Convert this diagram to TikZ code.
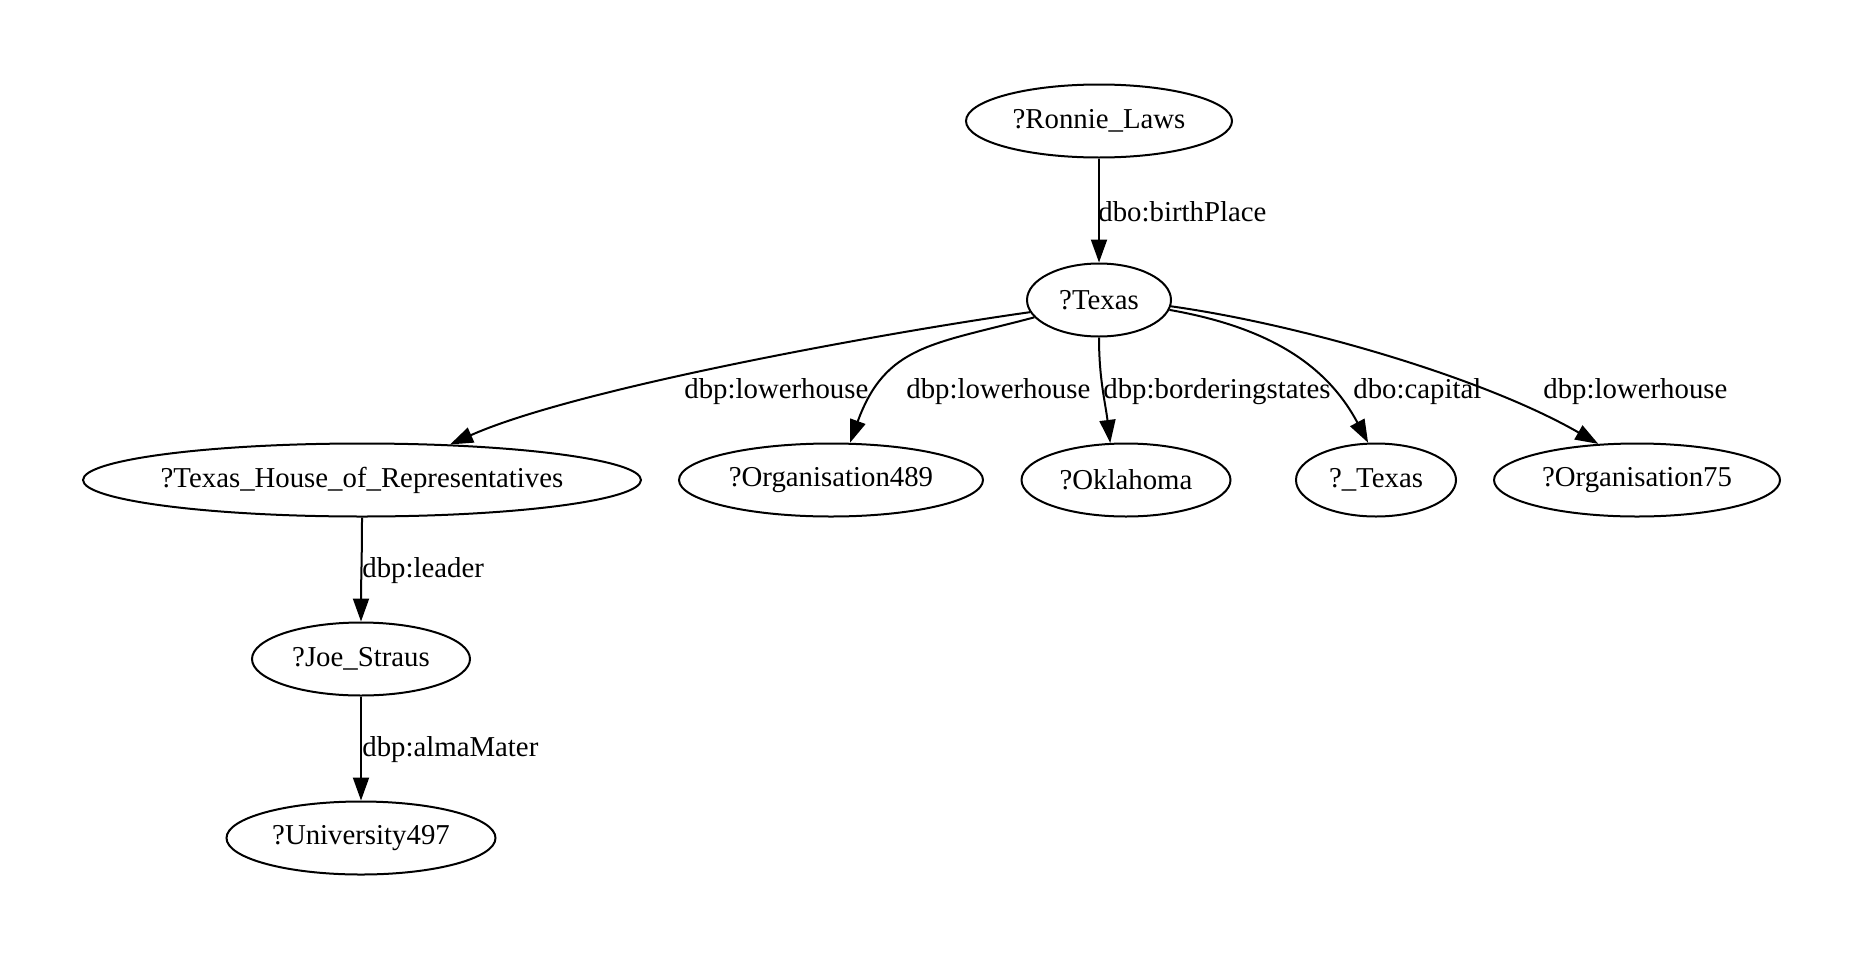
\documentclass[tikz,border=0pt]{standalone}
\usepackage{fontspec}
\setmainfont{Liberation Serif}
\usepackage{tikz}
\usetikzlibrary{arrows.meta,shapes.geometric}
\definecolor{Ink}{HTML}{000000}
\newcommand{\varnode}[5]{%
  \node[ellipse,draw=Ink,line width=1pt,inner xsep=-6pt,inner ysep=0pt,
        minimum width=#5,minimum height=36.5pt,text=Ink,
        font=\fontsize{14.4}{16}\selectfont] (#1) at (#3,#4) {#2};}
\newcommand{\edgelabel}[4]{%
  \node[anchor=west,inner sep=0pt,text=Ink,font=\fontsize{14.4}{16}\selectfont] (#1) at (#3,#4) {#2};}

\begin{document}
\begin{tikzpicture}[x=0.5pt,y=-0.5pt]
    \useasboundingbox (0,0) rectangle (1862,958);
    \varnode{ronnie}{?Ronnie\_Laws}{1099}{121}{133pt}
    \varnode{tx}{?Texas}{1099}{300}{72pt}
    \varnode{thor}{?Texas\_House\_of\_Representatives}{362}{480}{279pt}
    \varnode{org1}{?Organisation489}{831}{480}{152pt}
    \varnode{okl}{?Oklahoma}{1126}{480}{104.5pt}
    \varnode{utx}{?\_Texas}{1376}{480}{80pt}
    \varnode{org2}{?Organisation75}{1637}{480}{143pt}
    \varnode{joe}{?Joe\_Straus}{361}{659}{109pt}
    \varnode{univ}{?University497}{361}{838}{134.5pt}
    \foreach \a/\b/\o/\i/\l in {ronnie.south/tx.north/-90/90/1,
        tx.190/thor.22/188/24/0.6, tx.195/org1.63/195/70/1.2,
        tx.south/okl.113/-90/97/1, tx.-8/utx.102/-10/118/1,
        tx.-5/org2.137/-8/150/0.75,
        thor.south/joe.north/-90/90/1, joe.south/univ.north/-90/90/1}
      \draw[-{Triangle[length=11.5pt,width=8pt]},line width=1pt,color=Ink]
        (\a) to[out=\o,in=\i,looseness=\l] (\b);
    \edgelabel{lbirth}{dbo:birthPlace}{1098}{212}
    \edgelabel{llower1}{dbp:lowerhouse}{684}{392}
    \edgelabel{llower2}{dbp:lowerhouse}{906}{392}
    \edgelabel{lborder}{dbp:borderingstates}{1103}{392}
    \edgelabel{lcapital}{dbo:capital}{1353}{392}
    \edgelabel{llower3}{dbp:lowerhouse}{1543}{392}
    \edgelabel{lleader}{dbp:leader}{362}{571}
    \edgelabel{lalma}{dbp:almaMater}{362}{750}
  \end{tikzpicture}
\end{document}
